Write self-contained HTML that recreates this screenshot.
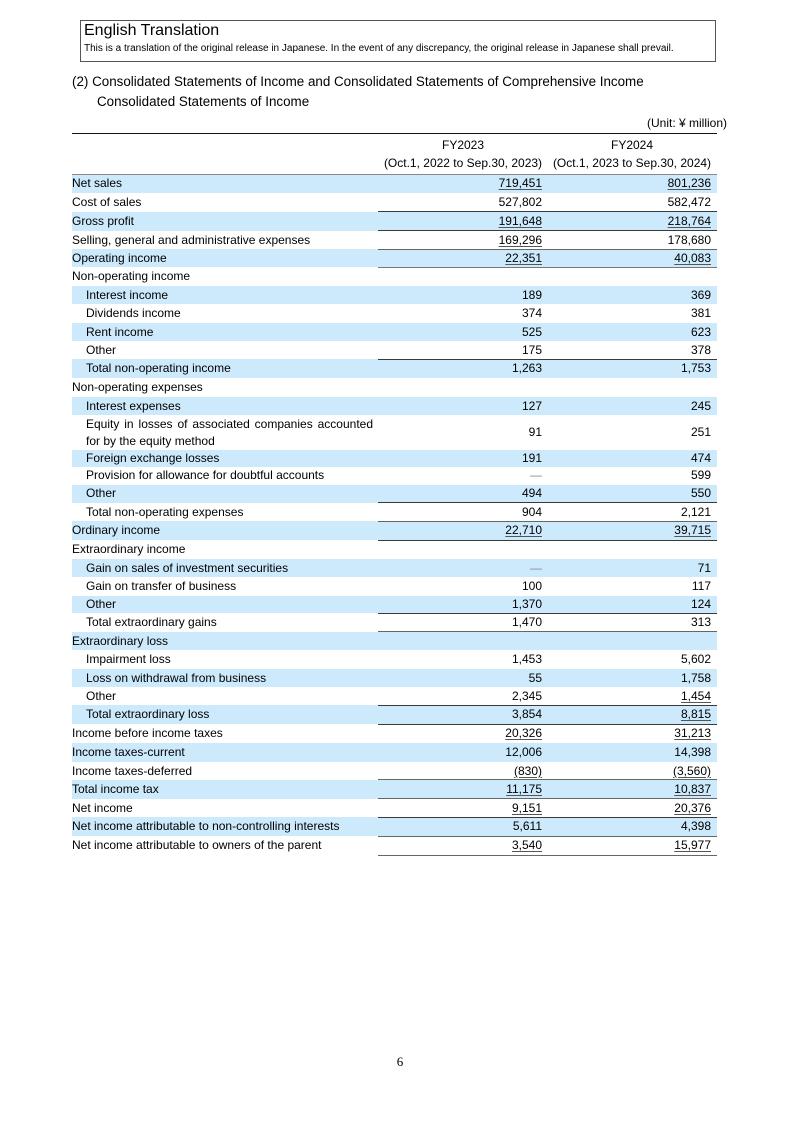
<!DOCTYPE html>
<html>
<head>
<meta charset="utf-8">
<style>
  html,body{margin:0;padding:0;background:#fff;}
  body{width:800px;height:1131px;position:relative;overflow:hidden;font-family:"Liberation Sans",Arial,sans-serif;color:#000;}
  .a{position:absolute;white-space:nowrap;}
  .box{position:absolute;left:79.5px;top:19.5px;width:634px;height:40.5px;border:1px solid #555;}
  .row{position:absolute;left:72px;width:645px;}
  .sh{background:#cdeafc;}
  .lb{position:absolute;left:0;top:0;font-size:12px;white-space:nowrap;}
  .ind{left:14px;}
  .v1,.v2{position:absolute;top:0;font-size:12px;text-align:right;width:160px;}
  .v1{left:310px;}
  .v2{left:479px;}
  .u{text-decoration:underline;text-decoration-color:#555;text-underline-offset:2px;}
  .ln{position:absolute;left:378px;width:339px;height:1px;background:#3a3a3a;}
</style>
</head>
<body>
<div class="box"></div>
<div class="a" style="left:84px;top:20px;font-size:16px;line-height:22px;">English Translation</div>
<div class="a" style="left:84px;top:41.5px;font-size:10px;line-height:13px;">This is a translation of the original release in Japanese. In the event of any discrepancy, the original release in Japanese shall prevail.</div>

<div class="a" style="left:72px;top:73px;font-size:13.4px;line-height:18px;">(2) Consolidated Statements of Income and Consolidated Statements of Comprehensive Income</div>
<div class="a" style="left:97px;top:93px;font-size:13.4px;line-height:18px;">Consolidated Statements of Income</div>
<div class="a" style="right:73px;top:115px;font-size:12px;line-height:16px;">(Unit: ¥ million)</div>

<div class="a" style="left:72px;top:132.5px;width:645px;height:1.6px;background:#111;"></div>
<div class="a" style="left:378px;width:170px;top:137px;font-size:12px;line-height:17px;text-align:center;">FY2023</div>
<div class="a" style="left:547px;width:170px;top:137px;font-size:12px;line-height:17px;text-align:center;">FY2024</div>
<div class="a" style="left:378px;width:170px;top:155px;font-size:12px;line-height:17px;text-align:center;">(Oct.1, 2022 to Sep.30, 2023)</div>
<div class="a" style="left:547px;width:170px;top:155px;font-size:12px;line-height:17px;text-align:center;">(Oct.1, 2023 to Sep.30, 2024)</div>

<!-- rows -->
<div class="row sh" style="top:174px;height:18.7px;line-height:18.7px;"><span class="lb">Net sales</span><span class="v1"><span class="u">719,451</span></span><span class="v2"><span class="u">801,236</span></span></div>
<div class="row" style="top:192.7px;height:19px;line-height:19px;"><span class="lb">Cost of sales</span><span class="v1">527,802</span><span class="v2">582,472</span></div>
<div class="row sh" style="top:211.7px;height:19px;line-height:19px;"><span class="lb">Gross profit</span><span class="v1"><span class="u">191,648</span></span><span class="v2"><span class="u">218,764</span></span></div>
<div class="row" style="top:230.7px;height:18.3px;line-height:18.3px;"><span class="lb">Selling, general and administrative expenses</span><span class="v1"><span class="u">169,296</span></span><span class="v2">178,680</span></div>
<div class="row sh" style="top:249px;height:18.3px;line-height:18.3px;"><span class="lb">Operating income</span><span class="v1"><span class="u">22,351</span></span><span class="v2"><span class="u">40,083</span></span></div>
<div class="row" style="top:267.3px;height:18.7px;line-height:18.7px;"><span class="lb">Non-operating income</span></div>
<div class="row sh" style="top:286px;height:18.3px;line-height:18.3px;"><span class="lb ind">Interest income</span><span class="v1">189</span><span class="v2">369</span></div>
<div class="row" style="top:304.3px;height:18.4px;line-height:18.4px;"><span class="lb ind">Dividends income</span><span class="v1">374</span><span class="v2">381</span></div>
<div class="row sh" style="top:322.7px;height:18px;line-height:18px;"><span class="lb ind">Rent income</span><span class="v1">525</span><span class="v2">623</span></div>
<div class="row" style="top:340.7px;height:18.6px;line-height:18.6px;"><span class="lb ind">Other</span><span class="v1">175</span><span class="v2">378</span></div>
<div class="row sh" style="top:359.3px;height:18.7px;line-height:18.7px;"><span class="lb ind">Total non-operating income</span><span class="v1">1,263</span><span class="v2">1,753</span></div>
<div class="row" style="top:378px;height:18.7px;line-height:18.7px;"><span class="lb">Non-operating expenses</span></div>
<div class="row sh" style="top:396.7px;height:18.3px;line-height:18.3px;"><span class="lb ind">Interest expenses</span><span class="v1">127</span><span class="v2">245</span></div>
<div class="row" style="top:415px;height:35px;line-height:35px;">
  <div style="position:absolute;left:14px;top:0.5px;width:287px;font-size:12px;line-height:17.3px;white-space:nowrap;text-align:justify;text-align-last:justify;">Equity in losses of associated companies accounted</div>
  <div style="position:absolute;left:14px;top:17.8px;font-size:12px;line-height:17.3px;white-space:nowrap;">for by the equity method</div>
  <span class="v1">91</span><span class="v2">251</span></div>
<div class="row sh" style="top:450px;height:17.3px;line-height:17.3px;"><span class="lb ind">Foreign exchange losses</span><span class="v1">191</span><span class="v2">474</span></div>
<div class="row" style="top:467.3px;height:17.7px;line-height:17.7px;"><span class="lb ind">Provision for allowance for doubtful accounts</span><span class="v1" style="color:#888;">―</span><span class="v2">599</span></div>
<div class="row sh" style="top:485px;height:17.7px;line-height:17.7px;"><span class="lb ind">Other</span><span class="v1">494</span><span class="v2">550</span></div>
<div class="row" style="top:502.7px;height:18.3px;line-height:18.3px;"><span class="lb ind">Total non-operating expenses</span><span class="v1">904</span><span class="v2">2,121</span></div>
<div class="row sh" style="top:521px;height:19px;line-height:19px;"><span class="lb">Ordinary income</span><span class="v1"><span class="u">22,710</span></span><span class="v2"><span class="u">39,715</span></span></div>
<div class="row" style="top:540px;height:19px;line-height:19px;"><span class="lb">Extraordinary income</span></div>
<div class="row sh" style="top:559px;height:18.3px;line-height:18.3px;"><span class="lb ind">Gain on sales of investment securities</span><span class="v1" style="color:#888;">―</span><span class="v2">71</span></div>
<div class="row" style="top:577.3px;height:18.2px;line-height:18.2px;"><span class="lb ind">Gain on transfer of business</span><span class="v1">100</span><span class="v2">117</span></div>
<div class="row sh" style="top:595.5px;height:17.5px;line-height:17.5px;"><span class="lb ind">Other</span><span class="v1">1,370</span><span class="v2">124</span></div>
<div class="row" style="top:613px;height:18.7px;line-height:18.7px;"><span class="lb ind">Total extraordinary gains</span><span class="v1">1,470</span><span class="v2">313</span></div>
<div class="row sh" style="top:631.7px;height:18.3px;line-height:18.3px;"><span class="lb">Extraordinary loss</span></div>
<div class="row" style="top:650px;height:18.7px;line-height:18.7px;"><span class="lb ind">Impairment loss</span><span class="v1">1,453</span><span class="v2">5,602</span></div>
<div class="row sh" style="top:668.7px;height:18px;line-height:18px;"><span class="lb ind">Loss on withdrawal from business</span><span class="v1">55</span><span class="v2">1,758</span></div>
<div class="row" style="top:686.7px;height:18.3px;line-height:18.3px;"><span class="lb ind">Other</span><span class="v1">2,345</span><span class="v2"><span class="u">1,454</span></span></div>
<div class="row sh" style="top:705px;height:19px;line-height:19px;"><span class="lb ind">Total extraordinary loss</span><span class="v1">3,854</span><span class="v2"><span class="u">8,815</span></span></div>
<div class="row" style="top:724px;height:18.7px;line-height:18.7px;"><span class="lb">Income before income taxes</span><span class="v1"><span class="u">20,326</span></span><span class="v2"><span class="u">31,213</span></span></div>
<div class="row sh" style="top:742.7px;height:19px;line-height:19px;"><span class="lb">Income taxes-current</span><span class="v1">12,006</span><span class="v2">14,398</span></div>
<div class="row" style="top:761.7px;height:18px;line-height:18px;"><span class="lb">Income taxes-deferred</span><span class="v1"><span class="u">(830)</span></span><span class="v2"><span class="u">(3,560)</span></span></div>
<div class="row sh" style="top:779.7px;height:19px;line-height:19px;"><span class="lb">Total income tax</span><span class="v1"><span class="u">11,175</span></span><span class="v2"><span class="u">10,837</span></span></div>
<div class="row" style="top:798.7px;height:18.6px;line-height:18.6px;"><span class="lb">Net income</span><span class="v1"><span class="u">9,151</span></span><span class="v2"><span class="u">20,376</span></span></div>
<div class="row sh" style="top:817.3px;height:18.7px;line-height:18.7px;"><span class="lb">Net income attributable to non-controlling interests</span><span class="v1">5,611</span><span class="v2">4,398</span></div>
<div class="row" style="top:836px;height:19px;line-height:19px;"><span class="lb">Net income attributable to owners of the parent</span><span class="v1"><span class="u">3,540</span></span><span class="v2"><span class="u">15,977</span></span></div>

<!-- header bottom line -->
<div class="a" style="left:72px;top:173.5px;width:645px;height:1px;background:#888;"></div>

<!-- data column lines -->
<div class="ln" style="top:211.2px;"></div>
<div class="ln" style="top:230.2px;"></div>
<div class="ln" style="top:248.5px;background:#666;"></div>
<div class="ln" style="top:266.8px;background:#777;height:1.4px;"></div>
<div class="ln" style="top:358.8px;"></div>
<div class="ln" style="top:502.2px;"></div>
<div class="ln" style="top:520.5px;background:#666;"></div>
<div class="ln" style="top:539.5px;"></div>
<div class="ln" style="top:612.5px;"></div>
<div class="ln" style="top:631.2px;background:#666;"></div>
<div class="ln" style="top:704.5px;"></div>
<div class="ln" style="top:723.5px;"></div>
<div class="ln" style="top:779.2px;background:#666;"></div>
<div class="ln" style="top:798.2px;background:#666;"></div>
<div class="ln" style="top:816.8px;"></div>
<div class="ln" style="top:835.5px;background:#666;"></div>
<div class="ln" style="top:854.5px;background:#666;"></div>

<div class="a" style="left:393px;width:14px;top:1053px;font-family:'Liberation Serif',serif;font-size:13px;line-height:18px;text-align:center;">6</div>
</body>
</html>
